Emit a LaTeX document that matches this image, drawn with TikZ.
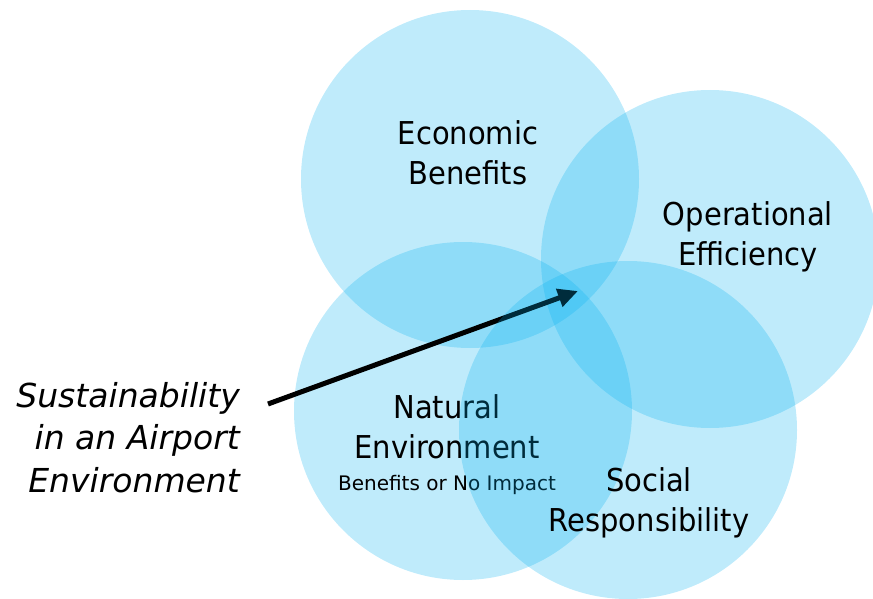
\documentclass[tikz,border=0pt]{standalone}
\usepackage{fontspec}
\setmainfont{DejaVu Sans}
\newfontfamily\narrowsans{DejaVu Sans}[FakeStretch=0.92]
\usetikzlibrary{arrows.meta}

\definecolor{bubbleblue}{HTML}{00B0F0}

\tikzset{
  bubble/.style={circle,fill=bubbleblue,fill opacity=0.25,minimum size=338pt,inner sep=0pt},
  pillar/.style={font=\narrowsans\fontsize{31.5}{40}\selectfont,align=center,anchor=base,inner sep=0pt},
  remark/.style={font=\fontsize{20}{24}\selectfont,anchor=base,inner sep=0pt},
  theme/.style={font=\itshape\fontsize{33}{42.5}\selectfont,align=right,anchor=base east,inner sep=0pt}
}

\begin{document}
\begin{tikzpicture}[x=1pt,y=-1pt,>=Triangle]

\useasboundingbox (0,0) rectangle (873,599);

% The three back circles
\node[bubble] (econ) at (470,179) {};
\node[bubble] (oper) at (710,259) {};
\node[bubble] (natur) at (463,411) {};

% Labels inside (base = last line)
\node[pillar] (econtxt) at (468,185) {Economic\\Benefits};
\node[pillar] (opertxt) at (748,265) {Operational\\Efficiency};
\node[pillar] (naturtxt) at (447,458) {Natural\\Environment};
\node[remark] (impact) at (447,490) {Benefits or No Impact};

% Theme label and arrow into the middle
\node[theme] (theme) at (240,492) {Sustainability\\in an Airport\\Environment};
\coordinate (tail) at (268,404);
\coordinate (tip) at (578,291);
\draw[line width=5pt,-{Triangle[length=20pt,width=18pt]}] (tail) -- (tip);

% Front circle goes over the arrow
\node[bubble] (social) at (628,430) {};
\node[pillar] (socialtxt) at (649,531) {Social\\Responsibility};

\end{tikzpicture}
\end{document}
